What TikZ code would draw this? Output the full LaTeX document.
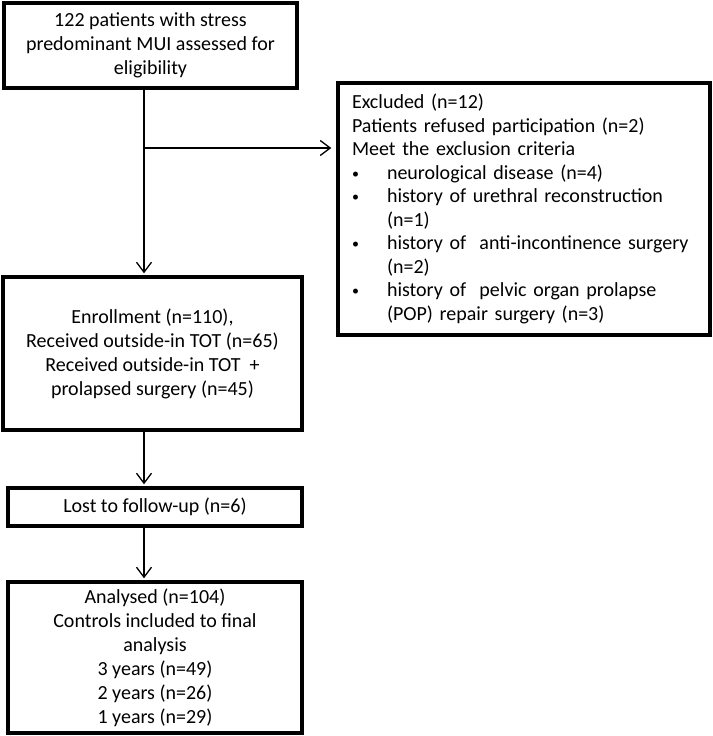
\documentclass[tikz,border=0pt]{standalone}
\usepackage{fontspec}
\setmainfont{Carlito}
\usetikzlibrary{arrows.meta}
\newcommand{\bulitem}{\makebox[38pt][l]{\hspace{3pt}\raisebox{1pt}{\fontsize{14}{14}\selectfont\textbullet}}}
\newcommand{\inditem}{\hspace*{38pt}}
\begin{document}
\begin{tikzpicture}[x=1pt,y=-1pt,
  box/.style={draw,line width=3.4pt,align=center,font=\fontsize{20}{24}\selectfont,inner sep=0pt},
  conn/.style={line width=1.3pt,shorten >=2pt,-{Straight Barb[length=10pt,width=15pt,line width=1.3pt]}}]
\useasboundingbox (0,0) rectangle (712,736);
\node[box,minimum width=293pt,minimum height=85pt] (elig) at (150.5,45.5)
  {122 patients with stress\\predominant MUI assessed for\\eligibility};
\node[box,minimum width=372pt,minimum height=252pt,text width=350pt,align=left,
  inner xsep=11pt,font=\fontsize{20}{23.5}\selectfont] (excl) at (524,209)
  {\hspace*{3pt}Excluded (n=12)\\
   \hspace*{3pt}Patients refused participation (n=2)\\
   \hspace*{3pt}Meet the exclusion criteria\\
   \bulitem neurological disease (n=4)\\
   \bulitem history of urethral reconstruction\\
   \inditem (n=1)\\
   \bulitem history of\ \ anti-incontinence surgery\\
   \inditem (n=2)\\
   \bulitem history of\ \ pelvic organ prolapse\\
   \inditem (POP) repair surgery (n=3)};
\node[box,minimum width=299pt,minimum height=153pt] (enroll) at (152.5,353.5)
  {Enrollment (n=110),\\Received outside-in TOT (n=65)\\Received outside-in TOT\ \ +\\prolapsed surgery (n=45)};
\node[box,minimum width=294pt,minimum height=38pt] (lost) at (155,507)
  {Lost to follow-up (n=6)};
\node[box,minimum width=294pt,minimum height=151pt] (anal) at (155,657.5)
  {Analysed (n=104)\\Controls included to final\\analysis\\3 years (n=49)\\2 years (n=26)\\1 years (n=29)};
\coordinate (spine) at (144,0);
\coordinate (br) at (144,148);
\draw[conn] (elig.south -| spine) -- (enroll.north -| spine);
\draw[conn,shorten >=5pt] (br) -- (excl.west |- br);
\draw[conn] (enroll.south -| spine) -- (lost.north -| spine);
\draw[conn] (lost.south -| spine) -- (anal.north -| spine);
\end{tikzpicture}
\end{document}
